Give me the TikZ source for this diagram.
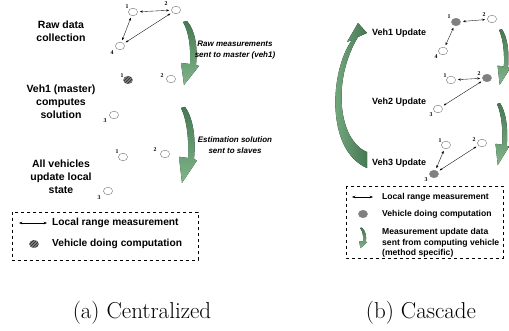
\documentclass[tikz,border=0pt]{standalone}
\usepackage{fontspec}
\newfontfamily\arialf{Liberation Sans}
\newfontfamily\timesf{Liberation Serif}
\usetikzlibrary{shapes.geometric,arrows.meta,patterns}
\definecolor{gdark}{RGB}{70,120,82}
\definecolor{glight}{RGB}{128,182,138}
\definecolor{vgray}{RGB}{128,128,128}
\tikzset{
  veh/.style={ellipse,draw=black!55,line width=0.4pt,fill=white,minimum width=9.2pt,minimum height=7.6pt,inner sep=0pt},
  vehc/.style={veh,draw=vgray,fill=vgray},
  vehh/.style={veh,draw=black!55,fill=black!50,postaction={pattern=north east lines,pattern color=black!85}},
  num/.style={font=\timesf\bfseries\fontsize{5.8}{6}\selectfont,inner sep=0pt},
  rng/.style={<->,>={Stealth[length=2.8pt,width=2.2pt]},line width=0.35pt,shorten <=2.2pt,shorten >=2.2pt},
  lrng/.style={<->,>={Stealth[length=3.4pt,width=2.6pt]},line width=0.4pt},
  lab/.style={font=\arialf\bfseries\fontsize{10.5}{13}\selectfont,align=center,inner sep=0pt},
  rlab/.style={font=\arialf\bfseries\fontsize{9}{11}\selectfont,anchor=west,inner sep=0pt},
  ital/.style={font=\arialf\bfseries\itshape\fontsize{8}{11}\selectfont,align=center,inner sep=0pt},
  legl/.style={font=\arialf\bfseries\fontsize{10.2}{12}\selectfont,anchor=west,inner sep=0pt},
  legr/.style={font=\arialf\bfseries\fontsize{8.6}{10.5}\selectfont,anchor=west,align=left,inner sep=0pt},
  legbox/.style={draw,dashed,line width=0.7pt},
  subcap/.style={font=\fontsize{23}{25}\selectfont,inner sep=0pt},
  crarrow/.pic={
    \fill[top color=gdark,bottom color=glight] (0,0) -- (4,-1) .. controls (12,8) and (15,25) .. (13,43) -- (16,44) -- (1,63) -- (-2,41) -- (7,42) .. controls (8,27) and (6,10) .. (0,0) -- cycle;
  }
}
\begin{document}
\begin{tikzpicture}[x=1pt,y=-1pt]
\useasboundingbox (0,0) rectangle (509,331);

% ---------- (a) Centralized ----------
\node[lab] (t1) at (61,31.5) {Raw data\\collection};
\node[lab] (t2) at (61,101.5) {Veh1 (master)\\computes\\solution};
\node[lab] (t3) at (61,176.5) {All vehicles\\update local\\state};

% step 1
\node[veh] (a1) at (133,12) {};  \node[num] (na1) at (127,7) {1};
\node[veh] (a2) at (176,10) {};  \node[num] (na2) at (166,4) {2};
\node[veh] (a4) at (120,46) {};  \node[num] (na4) at (112,53) {4};
\draw[rng] (a1) -- (a2);
\draw[rng] (a1) -- (a4);
\draw[rng] (a2) -- (a4);

% step 2
\node[vehh] (b1) at (128,80) {};  \node[num] (nb1) at (122,76) {1};
\node[veh] (b2) at (171,79) {};   \node[num] (nb2) at (162,76) {2};
\node[veh] (b3) at (114,115) {};  \node[num] (nb3) at (105,121) {3};

% step 3
\node[veh] (c1) at (123,157) {};  \node[num] (nc1) at (117,152) {1};
\node[veh] (c2) at (165,154) {};  \node[num] (nc2) at (155,150) {2};
\node[veh] (c3) at (108,191) {};  \node[num] (nc3) at (99,198) {3};

\pic at (183,22) {crarrow};
\pic[yscale=1.19] at (181,108) {crarrow};
\node[ital] (i1) at (235,50) {Raw measurements\\sent to master (veh1)};
\node[ital] (i2) at (235,145) {Estimation solution\\sent to slaves};

% legend (a)
\draw[legbox] (12,212) rectangle (198,260);
\coordinate (la1) at (19,223);
\coordinate (la2) at (47,223);
\draw[lrng] (la1) -- (la2);
\node[legl] (lt1) at (52,223) {Local range measurement};
\node[vehh] (ld) at (34,244) {};
\node[legl] (lt2) at (52,244) {Vehicle doing computation};

\node[subcap] (capa) at (142,313) {(a) Centralized};

% ---------- (b) Cascade ----------
\fill[left color=glight,right color=gdark] (367,168) -- (367,152)
  .. controls (338,140) and (332,80) .. (358,37)
  -- (367,33) -- (358,23) -- (347,42) -- (352,40)
  .. controls (330,70) and (325,150) .. (367,168) -- cycle;

\node[rlab] (r1) at (372,33) {Veh1 Update};
\node[rlab] (r2) at (372,102) {Veh2 Update};
\node[rlab] (r3) at (372,163) {Veh3 Update};

% Veh1
\node[vehc] (d1) at (456,22) {};  \node[num] (nd1) at (449,17) {1};
\node[veh] (d2) at (492,19) {};   \node[num] (nd2) at (484,15) {2};
\node[veh] (d4) at (443,51) {};   \node[num] (nd4) at (436,57) {4};
\draw[rng] (d1) -- (d2);
\draw[rng] (d1) -- (d4);

% Veh2
\node[veh] (e1) at (451,80) {};   \node[num] (ne1) at (445,76) {1};
\node[vehc] (e2) at (487,78) {};  \node[num] (ne2) at (479,74) {2};
\node[veh] (e3) at (438,109) {};  \node[num] (ne3) at (431,115) {3};
\draw[rng] (e1) -- (e2);
\draw[rng] (e2) -- (e3);

% Veh3
\node[veh] (f1) at (446,145) {};  \node[num] (nf1) at (440,141) {1};
\node[veh] (f2) at (482,143) {};  \node[num] (nf2) at (474,140) {2};
\node[vehc] (f3) at (434,174) {}; \node[num] (nf3) at (426,180) {3};
\draw[rng] (f1) -- (f3);
\draw[rng] (f2) -- (f3);

\pic[xscale=0.7,yscale=0.87] at (499,30) {crarrow};
\pic[xscale=0.75,yscale=0.97] at (497,104) {crarrow};

% legend (b)
\draw[legbox] (346,186) rectangle (503,258);
\coordinate (lb1) at (352,197);
\coordinate (lb2) at (373,197);
\draw[lrng] (lb1) -- (lb2);
\node[legr] (lr1) at (382,197) {Local range measurement};
\node[vehc] (lrd) at (363,214) {};
\node[legr] (lr2) at (382,214) {Vehicle doing computation};
\pic[xscale=0.45,yscale=0.32] at (360,228) {crarrow};
\node[legr] (lr3) at (382,243) {Measurement update data\\sent from computing vehicle\\(method specific)};

\node[subcap] (capb) at (421,313) {(b) Cascade};
\end{tikzpicture}
\end{document}
